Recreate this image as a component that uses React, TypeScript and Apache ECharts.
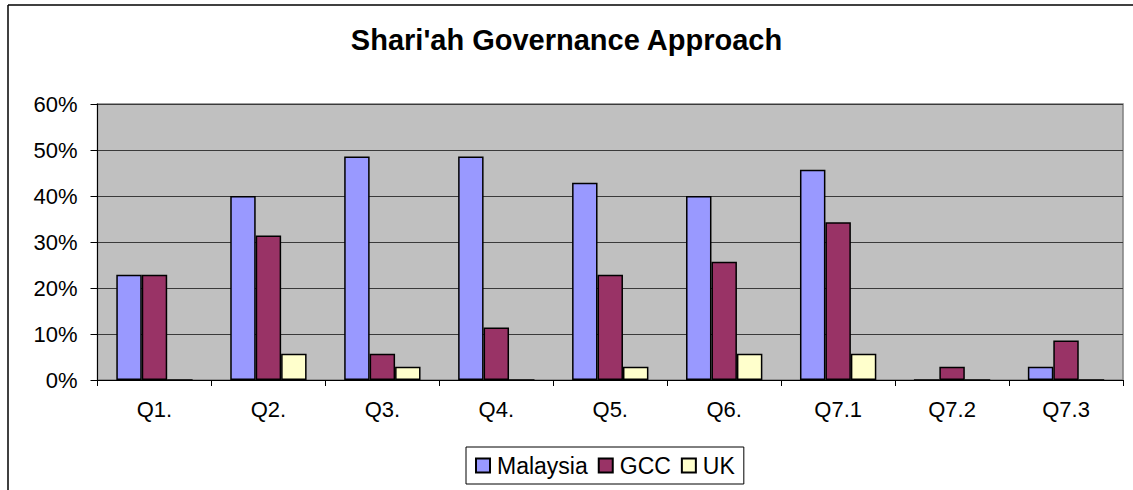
import React, { useEffect, useRef } from "react";
import * as echarts from "echarts";

const categories = ["Q1.", "Q2.", "Q3.", "Q4.", "Q5.", "Q6.", "Q7.1", "Q7.2", "Q7.3"];
const malaysia = [22.9, 40.0, 48.6, 48.6, 42.9, 40.0, 45.7, 0, 2.9];
const gcc = [22.9, 31.4, 5.7, 11.4, 22.9, 25.7, 34.3, 2.9, 8.6];
const uk = [0, 5.7, 2.9, 0, 2.9, 5.7, 5.7, 0, 0];
const seriesNames = ["Malaysia", "GCC", "UK"];
const seriesColors = ["#9999FF", "#993366", "#FFFFCC"];
const yTicks = { min: 0, max: 60, interval: 10 };

const FONT = "'Liberation Sans', Arial, sans-serif";

export default function App() {
  const ref = useRef<HTMLDivElement>(null);
  useEffect(() => {
    if (!ref.current) return;
    const chart = echarts.init(ref.current, undefined, { renderer: "svg" });
    const datasets = [malaysia, gcc, uk];
    chart.setOption({
      animation: false,
      backgroundColor: "#ffffff",
      textStyle: { fontFamily: FONT },
      title: {
        text: "Shari'ah Governance Approach",
        left: "center",
        top: 20,
        textStyle: { fontFamily: FONT, fontSize: 29, fontWeight: "bold", color: "#000" },
      },
      legend: {
        data: seriesNames,
        left: 466,
        top: 447,
        orient: "horizontal",
        icon: "rect",
        itemWidth: 14,
        itemHeight: 14,
        itemGap: 10,
        padding: [7, 9],
        backgroundColor: "#ffffff",
        borderColor: "#000",
        borderWidth: 1,
        borderRadius: 0,
        textStyle: { fontFamily: FONT, fontSize: 23, color: "#000", padding: [0, 0, 0, 2] },
      },
      grid: {
        left: 97.5,
        right: 10,
        top: 104,
        bottom: 110,
        show: true,
        backgroundColor: "#C0C0C0",
        borderColor: "#808080",
        borderWidth: 1.5,
      },
      xAxis: {
        type: "category",
        data: categories,
        axisLine: { show: true, lineStyle: { color: "#000", width: 1 } },
        axisTick: { show: true, length: 6, lineStyle: { color: "#000" } },
        axisLabel: { fontFamily: FONT, fontSize: 22, color: "#000", margin: 18 },
        splitLine: { show: false },
      },
      yAxis: {
        type: "value",
        min: yTicks.min,
        max: yTicks.max,
        interval: yTicks.interval,
        axisLine: { show: true, lineStyle: { color: "#000", width: 1 } },
        axisTick: { show: true, length: 7, lineStyle: { color: "#000" } },
        axisLabel: {
          fontFamily: FONT,
          fontSize: 22,
          color: "#000",
          margin: 20,
          formatter: "{value}%",
        },
        splitLine: { show: true, lineStyle: { color: "#3a3a3a", width: 1 } },
      },
      series: seriesNames.map((name, i) => ({
        name,
        type: "bar",
        data: datasets[i],
        barGap: "0%",
        barCategoryGap: "33%",
        itemStyle: { color: seriesColors[i], borderColor: "#000", borderWidth: 1.5 },
      })),
      graphic: [
        {
          type: "line",
          shape: { x1: 8, y1: 5, x2: 1133, y2: 5 },
          style: { stroke: "#000", lineWidth: 1.5 },
          silent: true,
          z: 100,
        },
        {
          type: "line",
          shape: { x1: 8, y1: 5, x2: 8, y2: 490 },
          style: { stroke: "#000", lineWidth: 1.5 },
          silent: true,
          z: 100,
        },
      ],
    });
    return () => chart.dispose();
  }, []);
  return (
    <div
      ref={ref}
      style={{ position: "absolute", left: 0, top: 0, width: 1133, height: 490, overflow: "hidden" }}
    />
  );
}
